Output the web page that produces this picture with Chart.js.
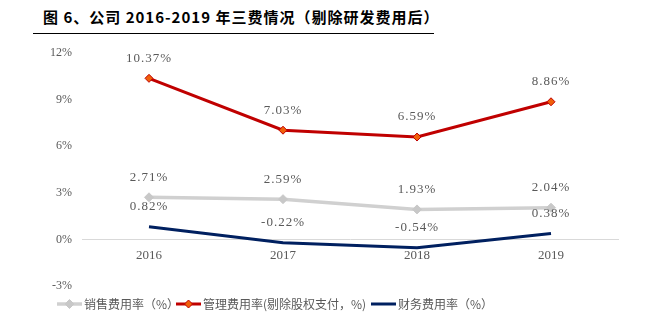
<!DOCTYPE html>
<html>
<head>
<meta charset="utf-8">
<script src="https://cdn.jsdelivr.net/npm/chart.js@4.4.1/dist/chart.umd.min.js"></script>
<style>
  body { margin: 0; background: #fff; }
  #wrap { position: relative; width: 660px; height: 326px; }
  #title {
    position: absolute; left: 43px; top: 6px;
    font-family: "Noto Sans CJK SC", sans-serif; font-weight: bold; font-size: 15px;
    color: #000; white-space: nowrap; letter-spacing: 1px;
  }
  #rule { position: absolute; left: 33px; top: 33px; width: 401px; height: 1px; background: #000; }
  canvas { position: absolute; left: 0; top: 0; }
</style>
</head>
<body>
<div id="wrap">
  <div id="title">图 6、公司 2016-2019 年三费情况（剔除研发费用后）</div>
  <div id="rule"></div>
  <canvas id="chart" width="660" height="326"></canvas>
</div>
<script>
// 数据
const years = ['2016', '2017', '2018', '2019'];
const xiaoshou = [2.71, 2.59, 1.93, 2.04];
const guanli = [10.37, 7.03, 6.59, 8.86];
const caiwu = [0.82, -0.22, -0.54, 0.38];
const seriesNames = ['销售费用率（%）', '管理费用率(剔除股权支付，%)', '财务费用率（%）'];

const labelFont = '13px "Liberation Serif", serif';
const cnFont = '12px "Noto Sans CJK SC", sans-serif';
const textColor = '#595959';

// 点上方的数值标签
const pointLabels = {
    id: 'pointLabels',
    afterDatasetsDraw(chart) {
        const ctx = chart.ctx;
        ctx.save();
        ctx.font = labelFont;
        ctx.fillStyle = textColor;
        ctx.textAlign = 'center';
        ctx.textBaseline = 'middle';
        ctx.letterSpacing = '1px';
        chart.data.datasets.forEach((ds, di) => {
            chart.getDatasetMeta(di).data.forEach((pt, i) => {
                ctx.fillText(ds.data[i].toFixed(2) + '%', pt.x, pt.y - 20);
            });
        });
        ctx.restore();
    }
};

// 底部图例
const legendX = [57, 176, 371];
const bottomLegend = {
    id: 'bottomLegend',
    afterDraw(chart) {
        const ctx = chart.ctx;
        const y = 304;
        ctx.save();
        ctx.textBaseline = 'middle';
        ctx.font = cnFont;
        chart.data.datasets.forEach((ds, di) => {
            const x = legendX[di];
            ctx.strokeStyle = ds.borderColor;
            ctx.lineWidth = ds.borderWidth;
            ctx.beginPath();
            ctx.moveTo(x, y);
            ctx.lineTo(x + 25, y);
            ctx.stroke();
            if (ds.pointRadius > 0) {
                const r = ds.pointRadius;
                ctx.fillStyle = ds.pointBackgroundColor;
                ctx.strokeStyle = ds.pointBorderColor;
                ctx.lineWidth = 1;
                ctx.beginPath();
                ctx.moveTo(x + 12.5, y - r);
                ctx.lineTo(x + 12.5 + r, y);
                ctx.lineTo(x + 12.5, y + r);
                ctx.lineTo(x + 12.5 - r, y);
                ctx.closePath();
                ctx.fill();
                ctx.stroke();
            }
            ctx.fillStyle = textColor;
            ctx.fillText(ds.label, x + 27, y);
        });
        ctx.restore();
    }
};

const ctx = document.getElementById('chart').getContext('2d');
new Chart(ctx, {
    type: 'line',
    data: {
        labels: years,
        datasets: [
            {
                label: seriesNames[0],
                data: xiaoshou,
                borderColor: '#D0D0D0',
                borderWidth: 3.5,
                pointStyle: 'rectRot',
                pointRadius: 4.5,
                pointBackgroundColor: '#C8C8C8',
                pointBorderColor: '#C8C8C8',
                pointBorderWidth: 1
            },
            {
                label: seriesNames[1],
                data: guanli,
                borderColor: '#C00000',
                borderWidth: 3,
                pointStyle: 'rectRot',
                pointRadius: 4,
                pointBackgroundColor: '#F0600A',
                pointBorderColor: '#C00000',
                pointBorderWidth: 1
            },
            {
                label: seriesNames[2],
                data: caiwu,
                borderColor: '#002060',
                borderWidth: 3,
                pointRadius: 0
            }
        ]
    },
    options: {
        responsive: false,
        animation: false,
        devicePixelRatio: 1,
        layout: { padding: { top: 53, bottom: 40, right: 42, left: 0 } },
        plugins: {
            legend: { display: false },
            tooltip: { enabled: false }
        },
        scales: {
            x: {
                position: { y: 0 },
                offset: true,
                grid: { display: false, drawTicks: false },
                border: { display: true, color: '#D9D9D9', width: 1 },
                ticks: {
                    color: textColor,
                    font: { family: '"Liberation Serif", serif', size: 13 },
                    padding: 8
                }
            },
            y: {
                min: -3,
                max: 12,
                grid: { display: false, drawTicks: false },
                border: { display: false },
                afterFit: function(scale) { scale.width = 82; },
                ticks: {
                    stepSize: 3,
                    color: textColor,
                    font: { family: '"Liberation Serif", serif', size: 12 },
                    padding: 10,
                    callback: function(v) { return v + '%'; }
                }
            }
        }
    },
    plugins: [pointLabels, bottomLegend]
});
</script>
</body>
</html>
